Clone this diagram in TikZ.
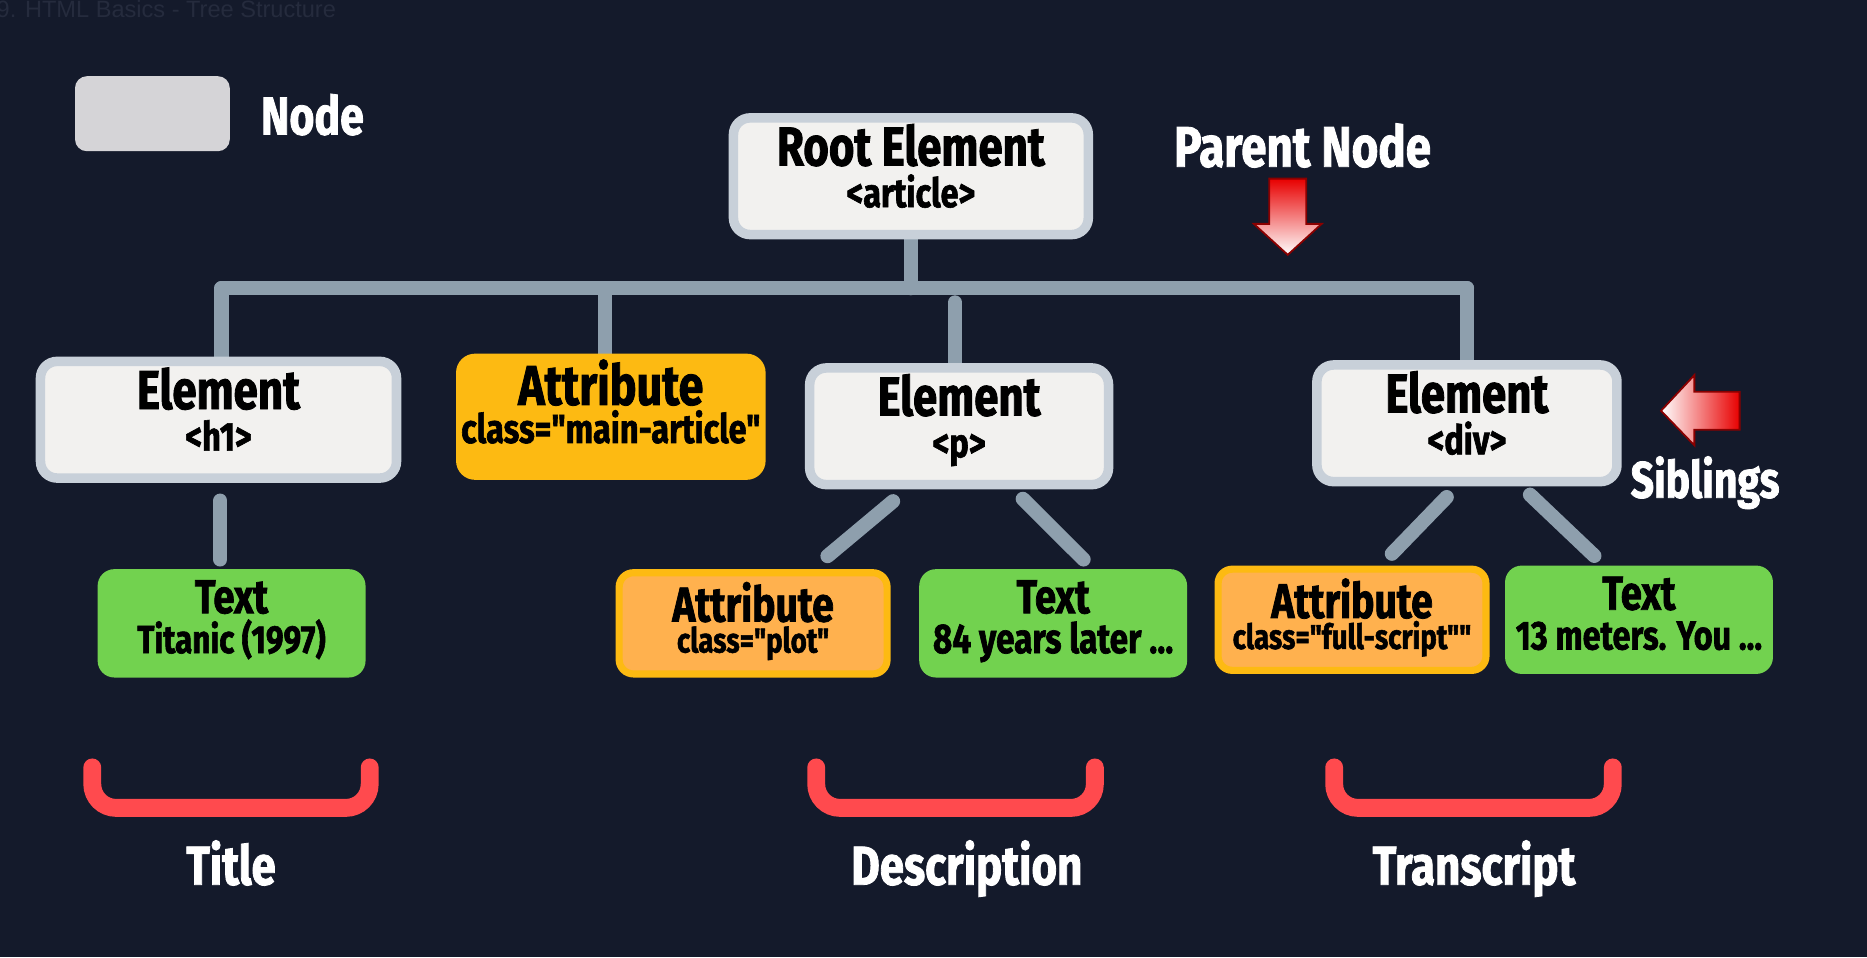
\documentclass[tikz,border=0pt]{standalone}
\usepackage{fontspec}
\newfontfamily\condfont[FakeStretch=0.8, BoldFeatures={FakeBold=1.5}]{Fira Sans}
\newfontfamily\faintfont{Liberation Sans}
\usetikzlibrary{calc,backgrounds}
\definecolor{bg}{HTML}{141A2B}
\definecolor{faint}{HTML}{252B3D}
\definecolor{connc}{HTML}{8E9FAD}
\definecolor{nodeborder}{HTML}{C8D0D9}
\definecolor{nodefill}{HTML}{F2F1EF}
\definecolor{legendc}{HTML}{D5D4D7}
\definecolor{gold}{HTML}{FDBA12}
\definecolor{orangec}{HTML}{FFB14E}
\definecolor{greenc}{HTML}{72D24F}
\definecolor{redbr}{HTML}{FF4A4E}
\definecolor{arrowred}{HTML}{E80000}
\definecolor{arrowedge}{HTML}{8A0000}
\newcommand\La[2]{{\fontsize{#1}{#1}\selectfont #2}}
% #1 strut height above first baseline, #2 size 1, #3 line 1, #4 size 2, #5 line 2, #6 strut depth
\newcommand\Two[6]{\rule{0pt}{#1pt}\La{#2}{#3}\\\La{#4}{#5}\rule[-#6pt]{0pt}{#6pt}}
\tikzset{
  conn/.style={draw=connc, line width=12pt, line cap=round},
  elem/.style={rectangle, rounded corners=14pt, draw=nodeborder, line width=8pt, fill=nodefill,
    inner sep=0pt, align=center, text=black, font=\condfont\bfseries\fontsize{30}{35}\selectfont},
  attrbig/.style={rectangle, rounded corners=16pt, fill=gold, minimum width=260pt, minimum height=106pt,
    inner sep=0pt, align=center, text=black, font=\condfont\bfseries\fontsize{30}{32}\selectfont},
  attrsmall/.style={rectangle, rounded corners=12pt, draw=gold, line width=6pt, fill=orangec,
    minimum width=225pt, minimum height=85pt, inner sep=0pt, align=center, text=black,
    font=\condfont\bfseries\fontsize{24}{26}\selectfont},
  textbox/.style={rectangle, rounded corners=14pt, fill=greenc, minimum width=225pt, minimum height=91pt,
    inner sep=0pt, align=center, text=black, font=\condfont\bfseries\fontsize{28}{33.5}\selectfont},
  whitelabel/.style={text=white, font=\condfont\bfseries\fontsize{46}{46}\selectfont, inner sep=0pt},
  bracket/.style={draw=redbr, line width=15pt, line cap=round, rounded corners=20pt},
  redarrow/.style={draw=arrowedge, line width=1.5pt, line join=miter},
}
\begin{document}
\begin{tikzpicture}[x=1pt,y=-1pt]
\useasboundingbox (0,0) rectangle (1568,804);
\begin{scope}[on background layer]
  \fill[bg] (0,0) rectangle (1568,804);
\end{scope}
\node[anchor=base west, text=faint, font=\faintfont\fontsize{19.8}{19.8}\selectfont, inner sep=0pt] (pagetitle) at (-3,15) {9. HTML Basics - Tree Structure};

% legend
\node[rectangle, rounded corners=10pt, fill=legendc, minimum width=130pt, minimum height=63pt] (legend) at (128,95.5) {};
\node[whitelabel, anchor=base west, font=\condfont\bfseries\fontsize{45}{45}\selectfont] (legendlabel) at (219,113) {Node};

% tree nodes
\node[elem, minimum width=298pt, minimum height=96pt] (root) at (765,148) {\Two{40}{46}{Root Element}{34}{<article>}{23}};
\node[elem, minimum width=299pt, minimum height=97pt] (h1) at (183.5,352.5) {\Two{40}{46}{Element}{34}{<h1>}{23}};
\node[attrbig] (attrmain) at (513,350) {\Two{40}{47}{Attribute}{34}{class="main-article"}{28}};
\node[elem, minimum width=251pt, minimum height=96pt] (p) at (805.5,358) {\Two{40}{46}{Element}{34}{<p>}{23}};
\node[elem, minimum width=252pt, minimum height=97pt] (div) at (1232,355.5) {\Two{40}{46}{Element}{34}{<div>}{23}};

\node[textbox] (texth1) at (194.5,523.5) {\Two{37}{40}{Text}{33}{Titanic (1997)}{20.5}};
\node[attrsmall] (attrplot) at (632.5,523.5) {\Two{39}{41}{Attribute}{29}{class="plot"}{16}};
\node[textbox] (text84) at (884.5,523.5) {\Two{37}{40}{Text}{35}{84 years later ...}{20.5}};
\node[attrsmall] (attrfull) at (1135.5,520.5) {\Two{39}{41}{Attribute}{29}{class="full-script""}{16}};
\node[textbox] (text13) at (1376.5,520.5) {\Two{37}{40}{Text}{34}{13 meters. You ...}{20.5}};

% connectors
\coordinate (busL) at (186,242);
\coordinate (busR) at (1232,242);
\begin{scope}[on background layer]
  \draw[conn] (busL) -- (busR);
  \draw[conn] (root.south) -- (root.south |- busL);
  \draw[conn] (busL) -- (busL |- h1.north);
  \draw[conn] ($(attrmain.north |- busL)+(-5,0)$) -- ($(attrmain.north)+(-5,0)$);
  \draw[conn] ($(busL -| p.north)+(-3.5,12)$) -- ($(p.north)+(-3.5,0)$);
  \draw[conn] (busR) -- (div.north);
\end{scope}
\draw[conn] ($(h1.south)+(1.5,15)$) -- ($(texth1.north)+(-9.5,-8)$);
\draw[conn] ($(p.south)+(-55.5,10)$) -- ($(attrplot.north)+(62.5,-11)$);
\draw[conn] ($(p.south)+(53.5,8)$) -- ($(text84.north)+(25.5,-8)$);
\draw[conn] ($(div.south)+(-17,9)$) -- ($(attrfull.north)+(33.5,-10)$);
\draw[conn] ($(div.south)+(53,7)$) -- ($(text13.north)+(-37.5,-8)$);

% parent node arrow
\node[whitelabel, anchor=base, font=\condfont\bfseries\fontsize{48}{48}\selectfont] (parentlabel) at (1094,140) {Parent Node};
\shadedraw[redarrow, top color=arrowred, middle color=arrowred, bottom color=white]
  (1066,150) -- (1097,150) -- (1097,188) -- (1110,188) -- (1081.5,214) -- (1053,188) -- (1066,188) -- cycle;

% siblings arrow
\shadedraw[redarrow, left color=white, middle color=arrowred, right color=arrowred]
  (1395,345) -- (1423,315) -- (1423,329) -- (1461,329) -- (1461,361) -- (1423,361) -- (1423,374) -- cycle;
\node[whitelabel, anchor=base, font=\condfont\bfseries\fontsize{43}{43}\selectfont] (siblingslabel) at (1432,418) {Siblings};

% brackets
\draw[bracket] (77.5,644.5) -- (77.5,678.5) -- (310.5,678.5) -- (310.5,644.5);
\draw[bracket] (685.5,644.5) -- (685.5,678.5) -- (919.5,678.5) -- (919.5,644.5);
\draw[bracket] (1120.5,644.5) -- (1120.5,678.5) -- (1354.5,678.5) -- (1354.5,644.5);
\node[whitelabel, anchor=base] (titlelabel) at (194,743) {Title};
\node[whitelabel, anchor=base] (desclabel) at (812,743) {Description};
\node[whitelabel, anchor=base] (translabel) at (1238,743) {Transcript};
\end{tikzpicture}
\end{document}
